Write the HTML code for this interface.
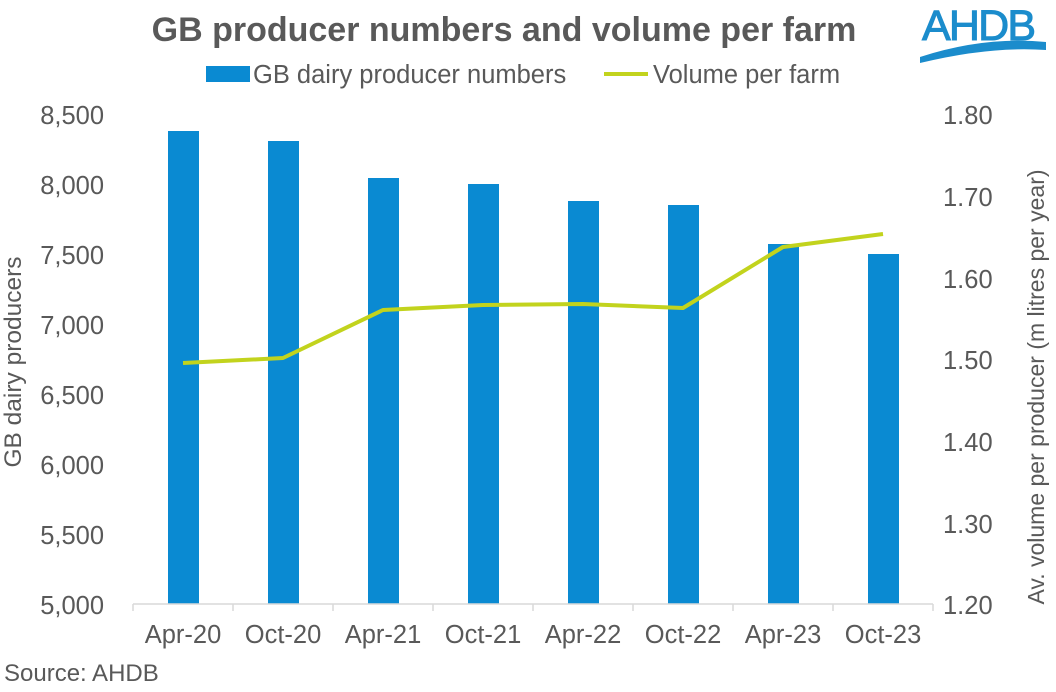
<!DOCTYPE html>
<html><head><meta charset="utf-8"><style>
body{margin:0;background:#fff}
svg text{font-family:"Liberation Sans",Arial,sans-serif}
</style></head><body>
<svg width="1056" height="687" viewBox="0 0 1056 687" xmlns="http://www.w3.org/2000/svg">
<rect width="1056" height="687" fill="#fff"/>
<text x="504" y="41" text-anchor="middle" font-size="34" font-weight="bold" fill="#595959">GB producer numbers and volume per farm</text>
<text x="979" y="40" text-anchor="middle" font-size="43" fill="#1b8ccc" stroke="#1b8ccc" stroke-width="1" textLength="114">AHDB</text>
<path d="M920 57 Q985 36 1046 42 L1046 50 Q990 46 920 63 Z" fill="#1b8ccc"/>
<rect x="206" y="66" width="44" height="16" fill="#0a8ad2"/>
<text x="253" y="83" font-size="25.5" fill="#595959">GB dairy producer numbers</text>
<line x1="604" y1="74" x2="648" y2="74" stroke="#c2d31d" stroke-width="4"/>
<text x="653" y="83" font-size="25.5" fill="#595959">Volume per farm</text>
<g font-size="25.5" fill="#595959" text-anchor="end">
<text x="104" y="124">8,500</text><text x="104" y="194">8,000</text><text x="104" y="264">7,500</text>
<text x="104" y="334">7,000</text><text x="104" y="404">6,500</text><text x="104" y="474">6,000</text>
<text x="104" y="544">5,500</text><text x="104" y="614">5,000</text>
</g>
<g font-size="25.5" fill="#595959">
<text x="943" y="124">1.80</text><text x="943" y="206">1.70</text><text x="943" y="288">1.60</text>
<text x="943" y="369">1.50</text><text x="943" y="451">1.40</text><text x="943" y="533">1.30</text>
<text x="943" y="614">1.20</text>
</g>
<text transform="translate(21,362) rotate(-90)" text-anchor="middle" font-size="24.5" fill="#595959">GB dairy producers</text>
<text transform="translate(1044,387) rotate(-90)" text-anchor="middle" font-size="23" fill="#595959">Av. volume per producer (m litres per year)</text>
<g fill="#0a8ad2">
<rect x="168" y="131" width="31" height="473"/>
<rect x="268" y="141" width="31" height="463"/>
<rect x="368" y="178" width="31" height="426"/>
<rect x="468" y="184" width="31" height="420"/>
<rect x="568" y="201" width="31" height="403"/>
<rect x="668" y="205" width="31" height="399"/>
<rect x="768" y="244" width="31" height="360"/>
<rect x="868" y="254" width="31" height="350"/>
</g>
<g stroke="#d9d9d9" stroke-width="1.5">
<line x1="133" y1="604" x2="933" y2="604"/>
<line x1="133" y1="604" x2="133" y2="611"/><line x1="233" y1="604" x2="233" y2="611"/>
<line x1="333" y1="604" x2="333" y2="611"/><line x1="433" y1="604" x2="433" y2="611"/>
<line x1="533" y1="604" x2="533" y2="611"/><line x1="633" y1="604" x2="633" y2="611"/>
<line x1="733" y1="604" x2="733" y2="611"/><line x1="833" y1="604" x2="833" y2="611"/>
<line x1="933" y1="604" x2="933" y2="611"/>
</g>
<polyline points="183,363 283,358 383,310 483,305 583,304 683,308 783,247 883,234" fill="none" stroke="#c2d31d" stroke-width="4" stroke-linejoin="round"/>
<g font-size="25.5" fill="#595959" text-anchor="middle">
<text x="183" y="643">Apr-20</text><text x="283" y="643">Oct-20</text><text x="383" y="643">Apr-21</text>
<text x="483" y="643">Oct-21</text><text x="583" y="643">Apr-22</text><text x="683" y="643">Oct-22</text>
<text x="783" y="643">Apr-23</text><text x="883" y="643">Oct-23</text>
</g>
<text x="4" y="681" font-size="24" fill="#595959">Source: AHDB</text>
</svg>
</body></html>
